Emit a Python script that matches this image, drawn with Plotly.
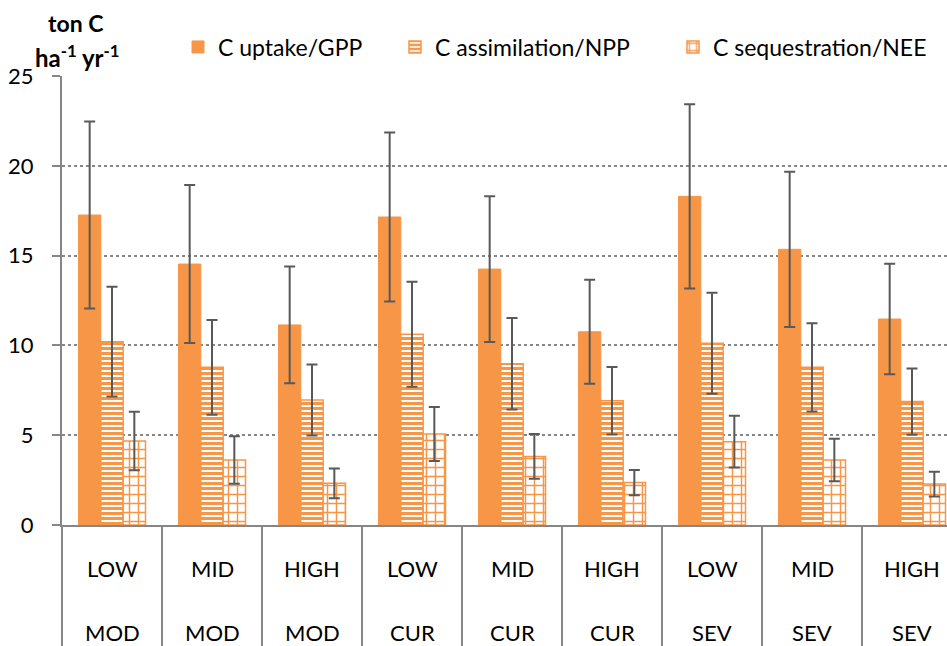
import plotly.graph_objects as go

# Treatment levels (inner) and climate scenarios (outer) for each column
levels = ["LOW", "MID", "HIGH", "LOW", "MID", "HIGH", "LOW", "MID", "HIGH"]
scenarios = ["MOD", "MOD", "MOD", "CUR", "CUR", "CUR", "SEV", "SEV", "SEV"]

# Carbon fluxes, ton C ha-1 yr-1
gpp = [17.26, 14.53, 11.14, 17.15, 14.25, 10.76, 18.30, 15.35, 11.47]
gpp_err = [5.20, 4.40, 3.25, 4.70, 4.06, 2.90, 5.13, 4.32, 3.08]
npp = [10.21, 8.78, 6.96, 10.62, 8.98, 6.92, 10.12, 8.78, 6.87]
npp_err = [3.06, 2.64, 1.98, 2.92, 2.55, 1.88, 2.81, 2.46, 1.85]
nee = [4.68, 3.62, 2.32, 5.07, 3.82, 2.36, 4.64, 3.62, 2.28]
nee_err = [1.63, 1.32, 0.83, 1.50, 1.25, 0.70, 1.44, 1.18, 0.69]

series_names = ["C uptake/GPP", "C assimilation/NPP", "C sequestration/NEE"]

ORANGE = "#F79646"
AXIS_GREY = "#868686"
ERR_GREY = "#595959"
FONT = "Lato"

x_pos = list(range(len(levels)))

def err(vals):
    return dict(type="data", array=vals, visible=True, color=ERR_GREY,
                thickness=2, width=5.5)

fig = go.Figure()
fig.add_trace(go.Bar(
    x=x_pos, y=gpp, name=series_names[0], error_y=err(gpp_err),
    marker=dict(color=ORANGE, line=dict(color=ORANGE, width=1)),
    legend="legend",
))
fig.add_trace(go.Bar(
    x=x_pos, y=npp, name=series_names[1], error_y=err(npp_err),
    marker=dict(color=ORANGE, line=dict(color=ORANGE, width=1.5),
                pattern=dict(shape="-", bgcolor="white", fgcolor=ORANGE,
                             size=5, solidity=0.6, fillmode="replace")),
    legend="legend2",
))
fig.add_trace(go.Bar(
    x=x_pos, y=nee, name=series_names[2], error_y=err(nee_err),
    marker=dict(color=ORANGE, line=dict(color=ORANGE, width=1.5),
                pattern=dict(shape="+", bgcolor="white", fgcolor=ORANGE,
                             size=9, solidity=0.3, fillmode="replace")),
    legend="legend3",
))

# Two-row category labels under each column
annotations = []
for i, (lv, sc) in enumerate(zip(levels, scenarios)):
    annotations.append(dict(x=i, y=-0.0958, xref="x", yref="paper", text=lv,
                            showarrow=False, xanchor="center", yanchor="middle",
                            font=dict(family=FONT, size=22, color="black")))
    annotations.append(dict(x=i, y=-0.2405, xref="x", yref="paper", text=sc,
                            showarrow=False, xanchor="center", yanchor="middle",
                            font=dict(family=FONT, size=22, color="black")))

# Unit label above the value axis
annotations.append(dict(x=0.0147, y=1.118, xref="paper", yref="paper",
                        text="<b>ton C</b>", showarrow=False,
                        xanchor="center", yanchor="middle",
                        font=dict(family=FONT, size=23, color="black")))
annotations.append(dict(x=0.018, y=1.045, xref="paper", yref="paper",
                        text="<b>ha<sup>-1</sup> yr<sup>-1</sup></b>", showarrow=False,
                        xanchor="center", yanchor="middle",
                        font=dict(family=FONT, size=24, color="black")))

legend_font = dict(family=FONT, size=23, color="black")

def legend_at(px):
    return dict(x=px / 947, y=1 - 47 / 646, xref="container", yref="container",
                xanchor="left", yanchor="middle", orientation="h",
                font=legend_font, bgcolor="rgba(0,0,0,0)", borderwidth=0)

fig.update_layout(
    width=947, height=646,
    margin=dict(l=62, r=0, t=76, b=121, autoexpand=False),
    paper_bgcolor="white", plot_bgcolor="white",
    barmode="group", bargap=0.33, bargroupgap=0,
    font=dict(family=FONT, size=21, color="black"),
    showlegend=True,
    legend=legend_at(178),
    legend2=legend_at(395),
    legend3=legend_at(673),
    annotations=annotations,
)

fig.update_xaxes(
    range=[-0.5, 8.35], showgrid=False, zeroline=False,
    showline=True, linecolor=AXIS_GREY, linewidth=2,
    tickmode="array", tickvals=[i - 0.5 for i in range(len(levels) + 1)],
    showticklabels=False, ticks="outside", ticklen=125,
    tickcolor=AXIS_GREY, tickwidth=2,
)
fig.update_yaxes(
    range=[0, 25], dtick=5, tick0=0,
    showline=True, linecolor=AXIS_GREY, linewidth=2,
    ticks="outside", ticklen=8, tickcolor=AXIS_GREY, tickwidth=2,
    ticklabelstandoff=14,
    showgrid=True, gridcolor=AXIS_GREY, gridwidth=1.5, griddash="dot",
    zeroline=False,
    tickfont=dict(family=FONT, size=22, color="black"),
)

fig.write_html("out.html")
